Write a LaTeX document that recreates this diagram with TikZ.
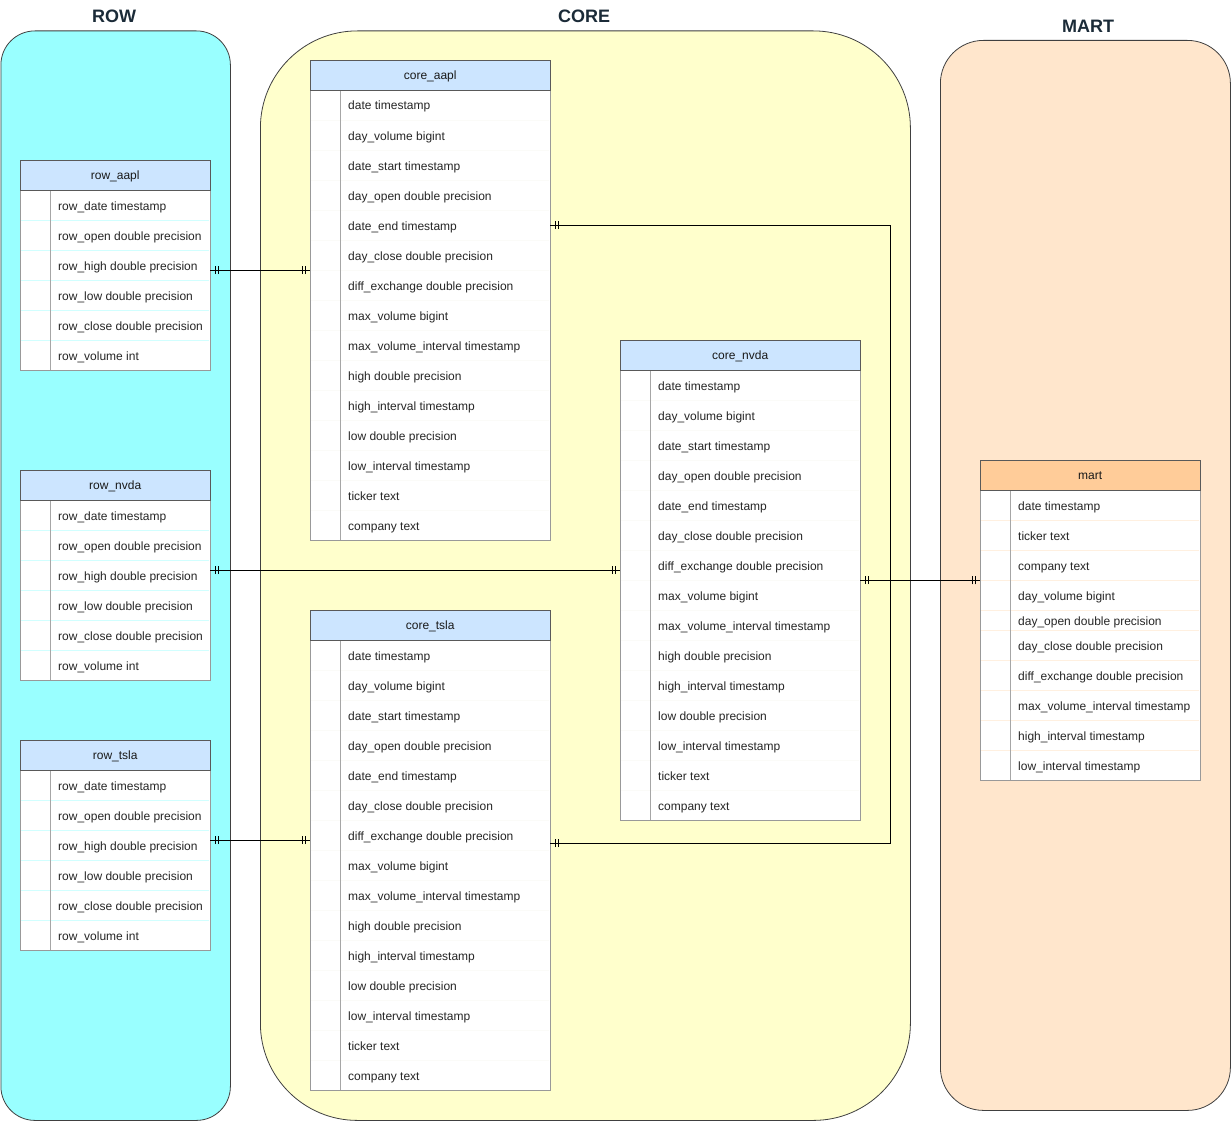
\documentclass[tikz,border=0pt]{standalone}
\usepackage{fontspec}
\setmainfont{Liberation Sans}
\usetikzlibrary{decorations.markings}
\definecolor{rowfill}{HTML}{99FFFF}
\definecolor{corefill}{HTML}{FFFFCC}
\definecolor{martfill}{HTML}{FFE6CC}
\definecolor{headblue}{HTML}{CCE5FF}
\definecolor{headorange}{HTML}{FFCC99}
\definecolor{titlecol}{HTML}{1B2B38}

\begin{document}
\begin{tikzpicture}[x=1pt,y=-1pt,
  group/.style={draw=black!75,line width=0.8pt,anchor=north west,inner sep=0pt},
  grouptitle/.style={font=\fontsize{18}{20}\selectfont\bfseries,text=titlecol},
  tablehead/.style={draw=black!65,fill=headblue,minimum height=30pt,inner sep=0pt,anchor=south west,
    text height=11pt,text depth=1pt,font=\fontsize{12}{14}\selectfont,text=black!90},
  tablebody/.style={draw=black!40,fill=white,inner sep=0pt,anchor=north west},
  fieldtext/.style={anchor=west,inner sep=0pt,text height=11pt,text depth=1pt,font=\fontsize{12}{14}\selectfont,text=black!85},
  fieldsep/.style={line width=0.6pt},
  keycol/.style={draw=black!35,line width=0.6pt},
  erline/.style={draw=black,line width=1pt,postaction={decorate},
    decoration={markings,
      mark=at position 5pt with {\draw[line width=0.8pt] (0,-4pt) -- (0,4pt);},
      mark=at position 8pt with {\draw[line width=0.8pt] (0,-4pt) -- (0,4pt);},
      mark=at position -5pt with {\draw[line width=0.8pt] (0,-4pt) -- (0,4pt);},
      mark=at position -8pt with {\draw[line width=0.8pt] (0,-4pt) -- (0,4pt);}}}
]
\useasboundingbox (0,0) rectangle (1231,1121);
\fill[white] (0,0) rectangle (1231,1121);

% groups
\node[group,fill=rowfill,rounded corners=34pt,minimum width=229.5pt,minimum height=1089.5pt] (rowgroup) at (0.5,30.5) {};
\node[group,fill=corefill,rounded corners=97pt,minimum width=650pt,minimum height=1089.5pt] (coregroup) at (260,30.5) {};
\node[group,fill=martfill,rounded corners=43pt,minimum width=290pt,minimum height=1070pt] (martgroup) at (940,40) {};
\node[grouptitle] (rowtitle) at (114,16) {ROW};
\node[grouptitle] (coretitle) at (584,16) {CORE};
\node[grouptitle] (marttitle) at (1088,26) {MART};

% row_aapl
\node[tablebody,minimum width=190pt,minimum height=180pt] (rowaapl) at (20,190) {};
\foreach \i in {2,...,6} \draw[fieldsep,draw=rowfill!45] (21,{160+30*\i}) -- (209,{160+30*\i});
\draw[keycol] ([xshift=30pt]rowaapl.north west) -- ([xshift=30pt]rowaapl.south west);
\foreach \f [count=\i] in {row\_date timestamp,row\_open double precision,row\_high double precision,row\_low double precision,row\_close double precision,row\_volume int}
  \node[fieldtext] (rowaapl-\i) at (58,{175+30*\i}) {\f};
\node[tablehead,minimum width=190pt] (rowaapl-h) at (rowaapl.north west) {row\_aapl};

% row_nvda
\node[tablebody,minimum width=190pt,minimum height=180pt] (rownvda) at (20,500) {};
\foreach \i in {2,...,6} \draw[fieldsep,draw=rowfill!45] (21,{470+30*\i}) -- (209,{470+30*\i});
\draw[keycol] ([xshift=30pt]rownvda.north west) -- ([xshift=30pt]rownvda.south west);
\foreach \f [count=\i] in {row\_date timestamp,row\_open double precision,row\_high double precision,row\_low double precision,row\_close double precision,row\_volume int}
  \node[fieldtext] (rownvda-\i) at (58,{485+30*\i}) {\f};
\node[tablehead,minimum width=190pt] (rownvda-h) at (rownvda.north west) {row\_nvda};

% row_tsla
\node[tablebody,minimum width=190pt,minimum height=180pt] (rowtsla) at (20,770) {};
\foreach \i in {2,...,6} \draw[fieldsep,draw=rowfill!45] (21,{740+30*\i}) -- (209,{740+30*\i});
\draw[keycol] ([xshift=30pt]rowtsla.north west) -- ([xshift=30pt]rowtsla.south west);
\foreach \f [count=\i] in {row\_date timestamp,row\_open double precision,row\_high double precision,row\_low double precision,row\_close double precision,row\_volume int}
  \node[fieldtext] (rowtsla-\i) at (58,{755+30*\i}) {\f};
\node[tablehead,minimum width=190pt] (rowtsla-h) at (rowtsla.north west) {row\_tsla};

% core_aapl
\node[tablebody,minimum width=240pt,minimum height=450pt] (coreaapl) at (310,90) {};
\foreach \i in {2,...,15} \draw[fieldsep,draw=corefill!80!black!8] (311,{60+30*\i}) -- (549,{60+30*\i});
\draw[keycol] ([xshift=30pt]coreaapl.north west) -- ([xshift=30pt]coreaapl.south west);
\foreach \f [count=\i] in {date timestamp,day\_volume bigint,date\_start timestamp,day\_open double precision,date\_end timestamp,day\_close double precision,diff\_exchange double precision,max\_volume bigint,max\_volume\_interval timestamp,high double precision,high\_interval timestamp,low double precision,low\_interval timestamp,ticker text,company text}
  \node[fieldtext] (coreaapl-\i) at (348,{75+30*\i}) {\f};
\node[tablehead,minimum width=240pt] (coreaapl-h) at (coreaapl.north west) {core\_aapl};

% core_nvda
\node[tablebody,minimum width=240pt,minimum height=450pt] (corenvda) at (620,370) {};
\foreach \i in {2,...,15} \draw[fieldsep,draw=corefill!80!black!8] (621,{340+30*\i}) -- (859,{340+30*\i});
\draw[keycol] ([xshift=30pt]corenvda.north west) -- ([xshift=30pt]corenvda.south west);
\foreach \f [count=\i] in {date timestamp,day\_volume bigint,date\_start timestamp,day\_open double precision,date\_end timestamp,day\_close double precision,diff\_exchange double precision,max\_volume bigint,max\_volume\_interval timestamp,high double precision,high\_interval timestamp,low double precision,low\_interval timestamp,ticker text,company text}
  \node[fieldtext] (corenvda-\i) at (658,{355+30*\i}) {\f};
\node[tablehead,minimum width=240pt] (corenvda-h) at (corenvda.north west) {core\_nvda};

% core_tsla
\node[tablebody,minimum width=240pt,minimum height=450pt] (coretsla) at (310,640) {};
\foreach \i in {2,...,15} \draw[fieldsep,draw=corefill!80!black!8] (311,{610+30*\i}) -- (549,{610+30*\i});
\draw[keycol] ([xshift=30pt]coretsla.north west) -- ([xshift=30pt]coretsla.south west);
\foreach \f [count=\i] in {date timestamp,day\_volume bigint,date\_start timestamp,day\_open double precision,date\_end timestamp,day\_close double precision,diff\_exchange double precision,max\_volume bigint,max\_volume\_interval timestamp,high double precision,high\_interval timestamp,low double precision,low\_interval timestamp,ticker text,company text}
  \node[fieldtext] (coretsla-\i) at (348,{625+30*\i}) {\f};
\node[tablehead,minimum width=240pt] (coretsla-h) at (coretsla.north west) {core\_tsla};

% mart
\node[tablebody,minimum width=220pt,minimum height=290pt] (mart) at (980,490) {};
\foreach \y in {520,550,580,610,630,660,690,720,750} \draw[fieldsep,draw=martfill!60] (981,\y) -- (1199,\y);
\draw[keycol] ([xshift=30pt]mart.north west) -- ([xshift=30pt]mart.south west);
\foreach \f/\yc [count=\i] in {date timestamp/505,ticker text/535,company text/565,day\_volume bigint/595,day\_open double precision/620,day\_close double precision/645,diff\_exchange double precision/675,max\_volume\_interval timestamp/705,high\_interval timestamp/735,low\_interval timestamp/765}
  \node[fieldtext] (mart-\i) at (1018,\yc) {\f};
\node[tablehead,fill=headorange,minimum width=220pt] (mart-h) at (mart.north west) {mart};

% connectors
\coordinate (martin) at ([yshift=55pt]mart.west);
\draw[erline] ([yshift=10pt]rowaapl.east) -- ([yshift=10pt]rowaapl.east -| coreaapl.west);
\draw[erline] ([yshift=20pt]rownvda.east) -- ([yshift=20pt]rownvda.east -| corenvda.west);
\draw[erline] ([yshift=20pt]rowtsla.east) -- ([yshift=20pt]rowtsla.east -| coretsla.west);
\draw[erline] ([yshift=90pt]coreaapl.east) -| ([xshift=-90pt]martin) -- (martin);
\draw[erline] ([yshift=22pt]coretsla.east) -| ([xshift=-90pt]martin) -- (martin);
\draw[erline] (corenvda.east |- martin) -- (martin);
\end{tikzpicture}
\end{document}
